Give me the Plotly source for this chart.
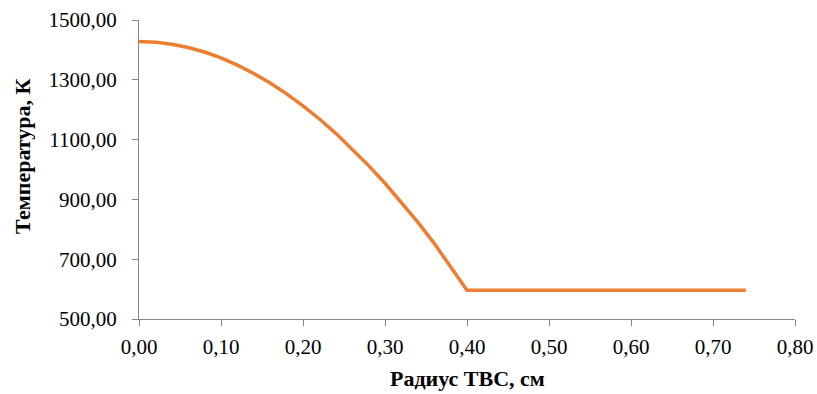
import plotly.graph_objects as go

radius_cm = [0.00, 0.02, 0.04, 0.06, 0.08, 0.10, 0.12, 0.14, 0.16, 0.18, 0.20,
             0.22, 0.24, 0.26, 0.28, 0.30, 0.32, 0.34, 0.36, 0.38, 0.40,
             0.45, 0.50, 0.55, 0.60, 0.65, 0.70, 0.74]
temperature_K = [1428, 1426, 1419, 1408, 1393, 1373, 1349, 1321, 1289, 1253, 1213,
                 1169, 1121, 1069, 1013, 954, 891, 824, 753, 677, 596,
                 596, 596, 596, 596, 596, 596, 596]

x_ticks = [0.0, 0.1, 0.2, 0.3, 0.4, 0.5, 0.6, 0.7, 0.8]
x_tick_labels = ["0,00", "0,10", "0,20", "0,30", "0,40", "0,50", "0,60", "0,70", "0,80"]
y_ticks = [500, 700, 900, 1100, 1300, 1500]
y_tick_labels = ["500,00", "700,00", "900,00", "1100,00", "1300,00", "1500,00"]

x_title = "Радиус ТВС, см"
y_title = "Температура, К"

FONT = "Liberation Serif, Times New Roman, serif"
AXIS_COLOR = "#868686"

fig = go.Figure()
fig.add_trace(go.Scatter(
    x=radius_cm, y=temperature_K, mode="lines",
    line=dict(color="#ED7D31", width=3.5, shape="linear"),
    showlegend=False, hoverinfo="skip", cliponaxis=False,
))

fig.update_layout(
    width=817, height=394,
    margin=dict(l=139, r=22, t=20, b=75),
    paper_bgcolor="white", plot_bgcolor="white",
    font=dict(family=FONT, size=21, color="#000000"),
    xaxis=dict(
        range=[0, 0.8], tickvals=x_ticks, ticktext=x_tick_labels,
        showgrid=False, zeroline=False, automargin=False,
        showline=True, linecolor=AXIS_COLOR, linewidth=1,
        ticks="outside", ticklen=6, tickcolor=AXIS_COLOR, tickwidth=1,
        tickfont=dict(family=FONT, size=21, color="#000000"),
        ticklabelstandoff=3,
    ),
    yaxis=dict(
        range=[500, 1500], tickvals=y_ticks, ticktext=y_tick_labels,
        showgrid=False, zeroline=False, automargin=False,
        showline=True, linecolor=AXIS_COLOR, linewidth=1,
        ticks="outside", ticklen=6, tickcolor=AXIS_COLOR, tickwidth=1,
        tickfont=dict(family=FONT, size=21, color="#000000"),
        ticklabelstandoff=11,
    ),
    annotations=[
        dict(text="<b>" + x_title + "</b>", xref="paper", yref="paper",
             x=0.5, y=-0.2, xanchor="center", yanchor="middle", showarrow=False,
             font=dict(family=FONT, size=22, color="#000000")),
        dict(text="<b>" + y_title + "</b>", xref="paper", yref="paper",
             x=-0.178, y=0.543, xanchor="center", yanchor="middle", showarrow=False,
             textangle=-90,
             font=dict(family=FONT, size=22, color="#000000")),
    ],
)

fig.write_html("out.html")
